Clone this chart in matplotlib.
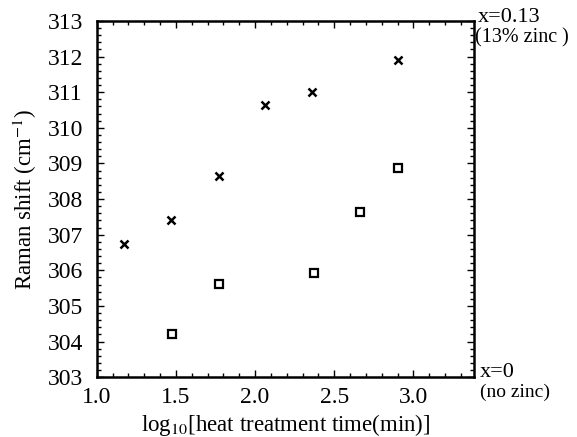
import matplotlib
matplotlib.use("Agg")
import matplotlib.pyplot as plt
from matplotlib.ticker import MultipleLocator

# log10 of heat treatment time (min) and Raman shift (cm-1)
zinc_x = [1.17, 1.47, 1.77, 2.06, 2.36, 2.90]
zinc_shift = [306.75, 307.4, 308.65, 310.65, 311.0, 311.9]
nozinc_x = [1.475, 1.775, 2.37, 2.665, 2.905]
nozinc_shift = [304.22, 305.62, 305.93, 307.65, 308.87]

plt.rcParams['font.family'] = ['Liberation Serif', 'DejaVu Serif']
plt.rcParams['mathtext.fontset'] = 'stix'

fig = plt.figure(figsize=(5.77, 4.37), dpi=100)
ax = fig.add_axes([0.1676, 0.137, 0.6544, 0.815])

ax.plot(zinc_x, zinc_shift, 'x', color='black', ms=6, mew=1.8)
ax.plot(nozinc_x, nozinc_shift, 's', color='black', mfc='white', ms=6, mew=1.6)

ax.set_xlim(1.0, 3.385)
ax.set_ylim(303, 313)
ax.xaxis.set_major_locator(MultipleLocator(0.5))
ax.xaxis.set_minor_locator(MultipleLocator(0.1))
ax.yaxis.set_major_locator(MultipleLocator(1))
ax.yaxis.set_minor_locator(MultipleLocator(0.2))
ax.set_xticks([1.0, 1.5, 2.0, 2.5, 3.0])
ax.set_xticklabels(['1.0', '1.5', '2.0', '2.5', '3.0'])

ax.tick_params(which='both', direction='in', top=True, right=True,
               width=1.0, labelsize=17)
ax.tick_params(axis='x', which='major', pad=7)
ax.tick_params(axis='y', which='major', pad=10)
ax.tick_params(which='major', length=5)
ax.tick_params(which='minor', length=3)
for sp in ax.spines.values():
    sp.set_linewidth(1.8)

ax.set_ylabel('Raman shift (cm$^{-1}$)', fontsize=16.5, labelpad=6)
ax.set_xlabel('log$_{10}$[heat treatment time(min)]', fontsize=16.5, labelpad=3)

ax.text(1.008, 1.011, 'x=0.13', transform=ax.transAxes, fontsize=16,
        ha='left', va='center')
ax.text(1.002, 0.952, '(13% zinc )', transform=ax.transAxes, fontsize=14.5,
        ha='left', va='center')
ax.text(1.015, 0.013, 'x=0', transform=ax.transAxes, fontsize=16,
        ha='left', va='center')
ax.text(1.015, -0.043, '(no zinc)', transform=ax.transAxes, fontsize=14,
        ha='left', va='center')

fig.savefig('out.png', dpi=100)
